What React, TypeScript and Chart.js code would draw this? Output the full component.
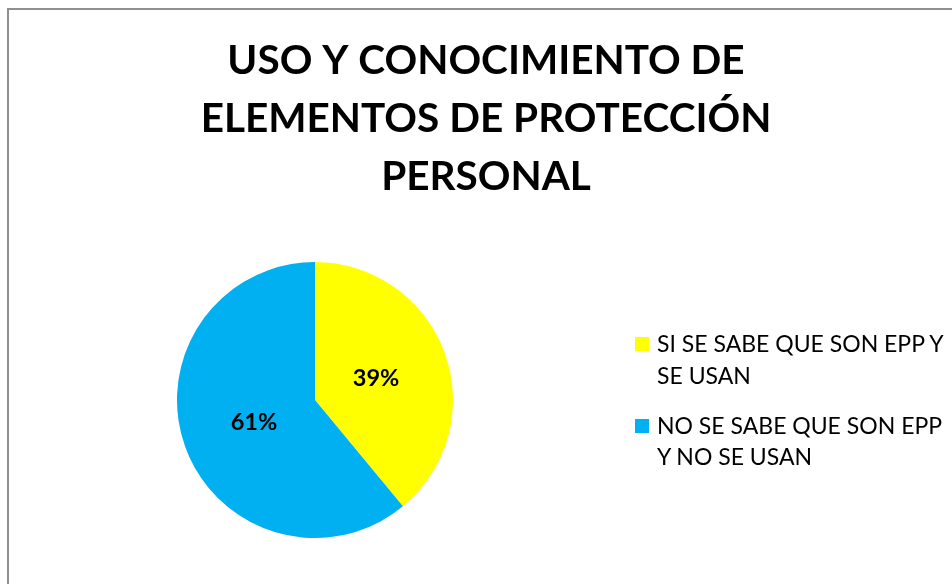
import React, { useEffect, useRef } from "react";
import { Chart, registerables } from "chart.js";

Chart.register(...registerables);

const titleLines = ["USO Y CONOCIMIENTO DE", "ELEMENTOS DE PROTECCIÓN", "PERSONAL"];
const categories = ["SI SE SABE QUE SON EPP Y SE USAN", "NO SE SABE QUE SON EPP Y NO SE USAN"];
const values = [39, 61];
const sliceColors = ["#FFFF00", "#00B0F0"];

const FONT = "Lato, 'Open Sans', sans-serif";

const wideTitle = {
  id: "wideTitle",
  afterDraw(chart: any) {
    const ctx = chart.ctx;
    ctx.save();
    ctx.font = `bold 40.5px ${FONT}`;
    ctx.fillStyle = "#000";
    ctx.textAlign = "center";
    ctx.textBaseline = "middle";
    const cx = chart.width / 2;
    titleLines.forEach((line, i) => {
      ctx.fillText(line, cx, 51 + i * 58);
    });
    ctx.restore();
  },
};

const pctLabels = {
  id: "pctLabels",
  afterDatasetsDraw(chart: any) {
    const ctx = chart.ctx;
    const meta = chart.getDatasetMeta(0);
    const data = chart.data.datasets[0].data as number[];
    const total = data.reduce((a, b) => a + b, 0);
    ctx.save();
    ctx.font = `bold 23.5px ${FONT}`;
    ctx.fillStyle = "#000";
    ctx.textAlign = "center";
    ctx.textBaseline = "middle";
    meta.data.forEach((arc: any, i: number) => {
      const p = arc.getProps(["x", "y", "startAngle", "endAngle", "outerRadius"], true);
      const mid = (p.startAngle + p.endAngle) / 2;
      const r = p.outerRadius * 0.47;
      const x = p.x + Math.cos(mid) * r;
      const y = p.y + Math.sin(mid) * r;
      ctx.fillText(Math.round((data[i] / total) * 100) + "%", x, y);
    });
    ctx.restore();
  },
};

export default function App() {
  const ref = useRef<HTMLCanvasElement>(null);
  useEffect(() => {
    document.body.style.margin = "0";
    document.body.style.overflow = "hidden";
    const chart = new Chart(ref.current!, {
      type: "pie",
      data: {
        labels: categories,
        datasets: [
          {
            data: values,
            backgroundColor: sliceColors,
            borderWidth: 0,
          },
        ],
      },
      options: {
        animation: false,
        responsive: false,
        maintainAspectRatio: false,
        layout: { padding: { left: 0, right: 342, top: 252, bottom: 56 } },
        plugins: {
          legend: { display: false },
          tooltip: { enabled: false },
          title: { display: false },
        },
      },
      plugins: [pctLabels, wideTitle],
    });
    return () => chart.destroy();
  }, []);

  return (
    <div style={{ position: "relative", width: 952, height: 584, overflow: "hidden", background: "#fff" }}>
      <div
        style={{
          position: "absolute",
          left: 7,
          top: 8,
          width: 980,
          height: 620,
          border: "2px solid #8f8f8f",
          boxSizing: "border-box",
        }}
      >
        <canvas ref={ref} width={954} height={584} style={{ display: "block" }} />
      </div>
      <div
        style={{
          position: "absolute",
          left: 635,
          top: 328,
          fontFamily: FONT,
          fontSize: 23,
          lineHeight: "31.5px",
          color: "#000",
        }}
      >
        {categories.map((c, i) => (
          <div key={c} style={{ display: "flex", marginBottom: 18.5 }}>
            <div
              style={{
                width: 14,
                height: 14,
                marginTop: 9,
                marginRight: 8,
                background: sliceColors[i],
                flexShrink: 0,
              }}
            />
            <div style={{ width: 292 }}>{c}</div>
          </div>
        ))}
      </div>
    </div>
  );
}
